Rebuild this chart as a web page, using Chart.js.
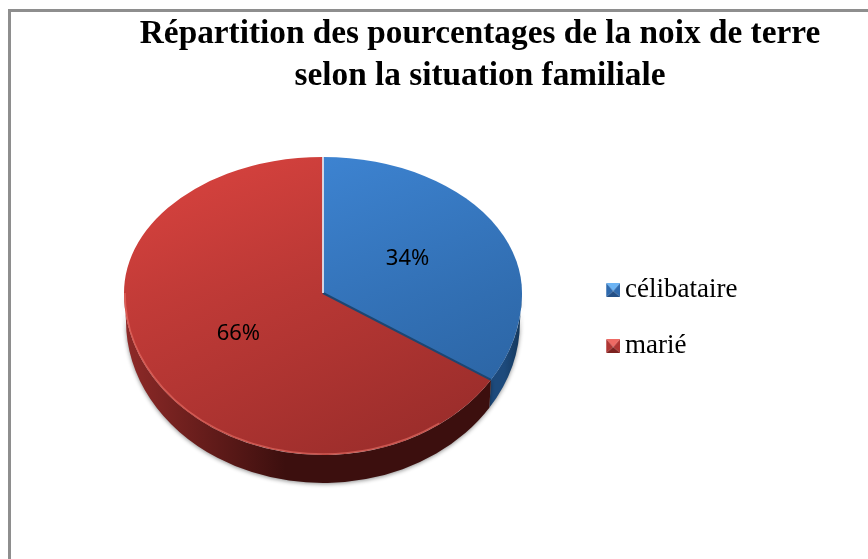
<!DOCTYPE html>
<html>
<head>
<meta charset="utf-8">
<style>
  html, body { margin: 0; background: #fff; overflow: hidden; }
  #frame { position: absolute; left: 8px; top: 9px; right: -10px; bottom: -10px; border-left: 3px solid #8e8e8e; border-top: 3px solid #8e8e8e; }
  #pie { position: absolute; left: 0; top: 0; }
</style>
</head>
<body>
<div id="frame"></div>
<canvas id="pie" width="868" height="559"></canvas>
<script src="https://cdn.jsdelivr.net/npm/chart.js@4"></script>
<script>
const categories = ["célibataire", "marié"];
const percentages = [34, 66];
const titleLines = ["Répartition des pourcentages de la noix de terre", "selon la situation familiale"];

// top face colours: light corner, dark corner
const faceColors = [["#4088d8", "#2a62a0"], ["#d6423e", "#982c2a"]];
const wallColors = [["#143658", "#1d4a7c"], ["#8f2a28", "#3c0f0e"]];
const boxColors = [
  ["#6cb4f4", "#2f6aae", "#2f6aae", "#234f86"],
  ["#ee6a64", "#b03634", "#b03634", "#7c2220"],
];

// how the flat pie is laid down as a tilted disc
const disc = { x: 323, y: 293, rx: 199, wallRx: 197, ryTop: 136, ryBottom: 162, depth: 28 };

function legendBox(colors) {
  // 4px blank on the left so the text sits closer to the box
  const c = document.createElement("canvas");
  c.width = 18;
  c.height = 14;
  const g = c.getContext("2d");
  g.translate(4, 0);
  const tri = (color, x1, y1, x2, y2) => {
    g.fillStyle = color;
    g.beginPath();
    g.moveTo(7, 8);
    g.lineTo(x1, y1);
    g.lineTo(x2, y2);
    g.closePath();
    g.fill();
  };
  tri(colors[0], 0, 0, 14, 0);
  tri(colors[1], 14, 0, 14, 14);
  tri(colors[2], 0, 0, 0, 14);
  tri(colors[3], 0, 14, 14, 14);
  return c;
}
const legendBoxes = boxColors.map(legendBox);

function faceGradient(context) {
  const i = context.dataIndex;
  const area = context.chart.chartArea;
  if (!area) return faceColors[i][0];
  const cx = (area.left + area.right) / 2;
  const cy = (area.top + area.bottom) / 2;
  const r = Math.min(area.width, area.height) / 2;
  const g = context.chart.ctx.createLinearGradient(cx - r * 0.6, cy - r, cx + r * 0.6, cy + r);
  g.addColorStop(0, faceColors[i][0]);
  g.addColorStop(1, faceColors[i][1]);
  return g;
}

function drawWall(ctx, from, to, colors, x0, x1) {
  const g = ctx.createLinearGradient(x0, 0, x1, 0);
  g.addColorStop(0, colors[0]);
  g.addColorStop(0.45, colors[1]);
  g.addColorStop(1, colors[1]);
  ctx.fillStyle = g;
  ctx.beginPath();
  ctx.ellipse(disc.x, disc.y + disc.depth, disc.wallRx, disc.ryBottom, 0, from, to);
  ctx.ellipse(disc.x, disc.y, disc.rx, disc.ryBottom, 0, to, from, true);
  ctx.closePath();
  ctx.fill();
}

function rimPoint(angle) {
  const sin = Math.sin(angle);
  return {
    x: disc.x + disc.rx * Math.cos(angle),
    y: disc.y + (sin < 0 ? disc.ryTop : disc.ryBottom) * sin,
  };
}

const tiltedPie = {
  id: "tiltedPie",
  afterLayout(chart) {
    // keep the legend next to the pie, not against the window edge
    chart.legend.left = 582;
    chart.legend.right = 868;
    chart.legend.top = 247.5;
  },
  beforeDatasetDraw(chart) {
    const ctx = chart.ctx;
    const arcs = chart.getDatasetMeta(0).data;
    const blue = arcs[0];
    const red = arcs[1];

    // side wall
    ctx.save();
    ctx.shadowColor = "rgba(0,0,0,0.45)";
    ctx.shadowBlur = 4;
    ctx.shadowOffsetY = 1;
    drawWall(ctx, 0, blue.endAngle, wallColors[0], disc.x + disc.rx, disc.x + disc.rx * 0.8);
    drawWall(ctx, red.startAngle, Math.PI, wallColors[1], disc.x - disc.rx, disc.x + disc.rx * 0.8);
    ctx.restore();

    // top face: upper and lower half use their own squash
    [[disc.ryTop, disc.y - 200, 200.5], [disc.ryBottom, disc.y, 200]].forEach(([ry, top, h]) => {
      ctx.save();
      ctx.beginPath();
      ctx.rect(0, top, chart.width, h);
      ctx.clip();
      arcs.forEach((arc) => {
        const r = arc.outerRadius;
        ctx.save();
        ctx.translate(disc.x, disc.y);
        ctx.scale(disc.rx / r, ry / r);
        ctx.translate(-arc.x, -arc.y);
        arc.draw(ctx);
        ctx.restore();
      });
      ctx.restore();
    });

    // light rim on the front edge
    ctx.strokeStyle = "rgba(240,120,110,0.55)";
    ctx.lineWidth = 1.5;
    ctx.beginPath();
    ctx.ellipse(disc.x, disc.y, disc.rx - 1, disc.ryBottom - 1, 0, Math.PI * 0.3, Math.PI);
    ctx.stroke();

    // slice edges
    const p = rimPoint(blue.endAngle);
    ctx.strokeStyle = "#1d4672";
    ctx.lineWidth = 2;
    ctx.beginPath();
    ctx.moveTo(disc.x, disc.y);
    ctx.lineTo(p.x, p.y);
    ctx.stroke();
    const q = rimPoint(blue.startAngle);
    ctx.strokeStyle = "rgba(225,225,235,0.9)";
    ctx.beginPath();
    ctx.moveTo(disc.x, disc.y);
    ctx.lineTo(q.x, q.y);
    ctx.stroke();

    // value labels
    ctx.fillStyle = "#000";
    ctx.font = "22px 'Noto Sans'";
    ctx.textAlign = "center";
    ctx.textBaseline = "middle";
    arcs.forEach((arc, i) => {
      const m = (arc.startAngle + arc.endAngle) / 2;
      const sin = Math.sin(m);
      const x = disc.x + disc.rx * 0.485 * Math.cos(m);
      const y = disc.y + (sin < 0 ? disc.ryTop : disc.ryBottom) * 0.52 * sin;
      ctx.fillText(percentages[i] + "%", x, y);
    });
    return false;
  },
};

new Chart(document.getElementById("pie").getContext("2d"), {
  type: "pie",
  data: {
    labels: categories,
    datasets: [{ data: percentages, backgroundColor: faceGradient, borderWidth: 0 }],
  },
  options: {
    responsive: false,
    animation: false,
    layout: { padding: { left: 92 } },
    plugins: {
      tooltip: { enabled: false },
      title: {
        display: true,
        text: titleLines,
        color: "#000",
        font: { family: "Liberation Serif", size: 33.3, weight: "bold", lineHeight: 1.25 },
        padding: { top: 14, bottom: 10 },
      },
      legend: {
        position: "right",
        align: "start",
        labels: {
          usePointStyle: true,
          boxWidth: 0.5,
          boxHeight: 14,
          color: "#000",
          padding: 29,
          font: { family: "Liberation Serif", size: 27 },
          generateLabels: () =>
            categories.map((text, i) => ({ text, index: i, pointStyle: legendBoxes[i], lineWidth: 0 })),
        },
      },
    },
  },
  plugins: [tiltedPie],
});
</script>
</body>
</html>
